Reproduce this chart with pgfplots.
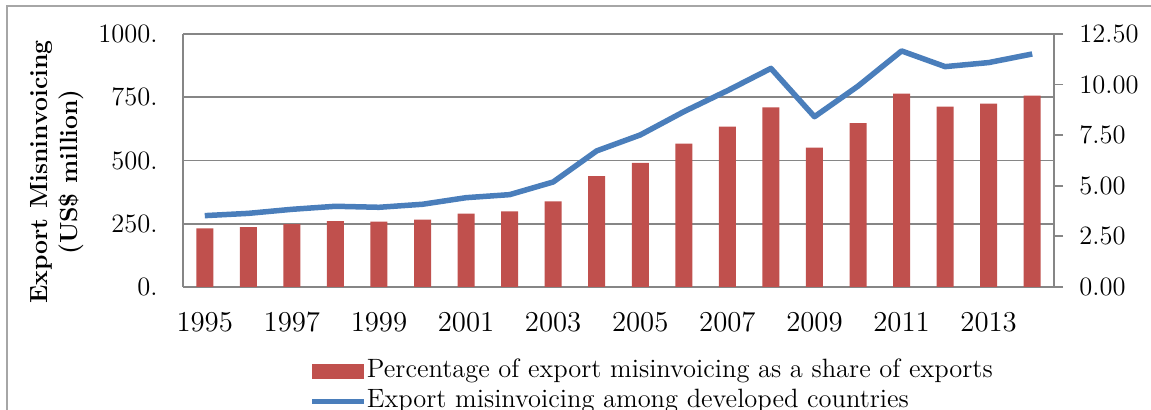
\documentclass[border=0pt]{standalone}
\usepackage{pgfplots}
\pgfplotsset{compat=1.18}

\definecolor{barred}{HTML}{C0504D}
\definecolor{lineblue}{HTML}{4A7EBB}
\definecolor{gridgray}{HTML}{868686}
\definecolor{framegray}{HTML}{A6A6A6}

\pgfplotsset{
    barlegend/.style={legend image code/.code={\fill[##1] (0pt,-3.75pt) rectangle (26pt,3.75pt);}},
    linelegend/.style={legend image code/.code={\draw[##1] (0pt,0pt) -- (26pt,0pt);}},
}

\begin{document}
\fontsize{13.25}{15}\selectfont
\begin{tikzpicture}
\useasboundingbox (0,0) rectangle (575.5pt,205pt);
% chart area frame (cut by the picture edges)
\draw[framegray, line width=0.75pt] (3.5pt,-20pt) -- (3.5pt,202pt) -- (620pt,202pt);

% bars: percentage, right axis
\begin{axis}[
    at={(91.5pt,61.5pt)}, anchor=south west,
    width=435.5pt, height=126.5pt, scale only axis,
    xmin=1994.5, xmax=2014.5, ymin=0, ymax=12.5,
    axis y line*=right, axis x line*=bottom,
    axis line style={-, draw=gridgray, line width=0.9pt},
    xtick={1995,1997,...,2013},
    xticklabel style={/pgf/number format/1000 sep={}, inner sep=0pt, yshift=-8.5pt},
    xtick style={draw=none},
    ytick={0,2.5,5,7.5,10,12.5},
    yticklabels={0.00,2.50,5.00,7.50,10.00,12.50},
    ytick style={draw=gridgray, line width=0.9pt},
    tick align=outside, major tick length=4.5pt,
    yticklabel style={inner sep=0pt, xshift=8pt},
    extra y ticks={3.125,6.25,9.375,12.5},
    extra y tick labels={},
    extra y tick style={grid=major, major tick length=0pt},
    major grid style={draw=gridgray, line width=0.9pt},
    ybar, bar width=8.5pt,
]
\addplot[fill=barred, draw=none] coordinates {
    (1995,2.90) (1996,2.96) (1997,3.11) (1998,3.26) (1999,3.23)
    (2000,3.33) (2001,3.62) (2002,3.74) (2003,4.23) (2004,5.48)
    (2005,6.13) (2006,7.08) (2007,7.92) (2008,8.88) (2009,6.88)
    (2010,8.09) (2011,9.55) (2012,8.91) (2013,9.06) (2014,9.45)
};
\end{axis}

% line: US$ million, left axis
\begin{axis}[
    at={(91.5pt,61.5pt)}, anchor=south west,
    width=435.5pt, height=126.5pt, scale only axis,
    xmin=1994.5, xmax=2014.5, ymin=0, ymax=1000,
    axis y line*=left, axis x line=none,
    axis line style={-, draw=gridgray, line width=0.9pt},
    ytick={0,250,500,750,1000},
    yticklabels={0.,250.,500.,750.,1000.},
    major tick length=0pt,
    yticklabel style={inner sep=0pt, xshift=-12.5pt},
    ylabel={Export Misninvoicing\\(US\$ million)},
    ylabel style={font=\fontsize{12.4}{15}\selectfont\bfseries, align=center, anchor=center,
        at={(axis description cs:-0.1447,0.4545)}},
    legend style={at={(axis description cs:0.1447,-0.2846)}, anchor=north west,
        draw=none, fill=none, inner sep=0pt, row sep=3pt,
        nodes={inner xsep=0pt, inner ysep=0pt, text height=9pt, text depth=3pt}},
    legend cell align=left,
]
\addlegendimage{barlegend, fill=barred, draw=none}
\addlegendentry{Percentage of export misinvoicing as a share of exports}
\addplot[lineblue, line width=2.75pt, line join=round, linelegend] coordinates {
    (1995,282) (1996,291) (1997,307) (1998,319) (1999,315)
    (2000,327) (2001,353) (2002,365) (2003,415) (2004,538)
    (2005,601) (2006,693) (2007,776) (2008,864) (2009,673)
    (2010,794) (2011,933) (2012,871) (2013,887) (2014,921)
};
\addlegendentry{Export misinvoicing among developed countries}
\end{axis}
\end{tikzpicture}
\end{document}
